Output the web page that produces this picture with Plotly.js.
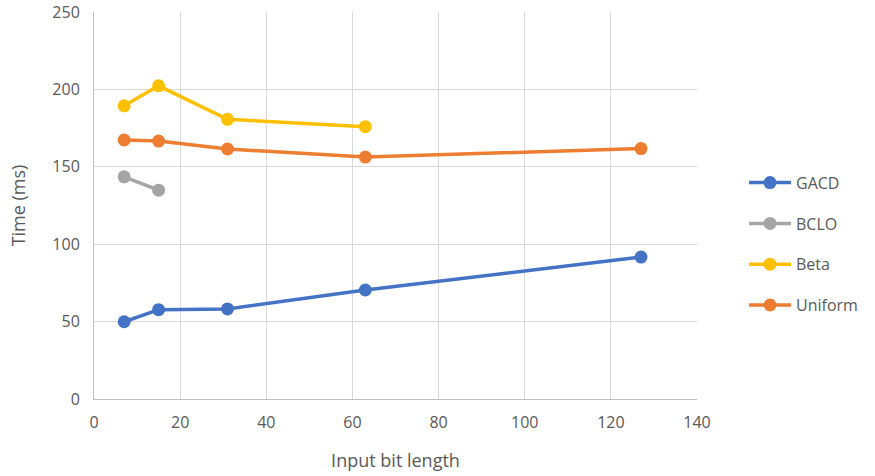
<!DOCTYPE html>
<html>
<head>
<meta charset="utf-8">
<script src="https://cdn.plot.ly/plotly-3.0.1.min.js"></script>
<style>html,body{margin:0;padding:0;background:#fff;}#chart{width:875px;height:476px;}</style>
</head>
<body>
<div id="chart"></div>
<script>
const seriesNames = ["GACD", "BCLO", "Beta", "Uniform"];
const colors = ["#4472C4", "#A5A5A5", "#FFC000", "#ED7D31"];
const gacdX = [7, 15, 31, 63, 127];
const gacdY = [49.9, 57.7, 58.2, 70.4, 91.7];
const bcloX = [7, 15];
const bcloY = [143.5, 134.9];
const betaX = [7, 15, 31, 63];
const betaY = [189.4, 202.3, 180.7, 175.9];
const uniformX = [7, 15, 31, 63, 127];
const uniformY = [167.3, 166.6, 161.5, 156.3, 161.8];
const xTicks = [0, 20, 40, 60, 80, 100, 120, 140];
const yTicks = [0, 50, 100, 150, 200, 250];

const xs = [gacdX, bcloX, betaX, uniformX];
const ys = [gacdY, bcloY, betaY, uniformY];
const font = "Open Sans, Liberation Sans, sans-serif";

const traces = seriesNames.map((n, i) => ({
  type: "scatter", mode: "lines+markers", name: n,
  x: xs[i], y: ys[i], legendgroup: n,
  line: {color: colors[i], width: 3.5},
  marker: {color: colors[i], size: 13}
}));

const layout = {
  width: 875, height: 476,
  margin: {l: 94, r: 178, t: 12, b: 77},
  paper_bgcolor: "#fff", plot_bgcolor: "#fff",
  font: {family: font, color: "#595959", size: 16},
  showlegend: true,
  legend: {x: 1.078, xanchor: "left", y: 0.4, yanchor: "middle",
    font: {size: 16, color: "#595959"}, tracegroupgap: 17, itemwidth: 42},
  xaxis: {range: [0, 140], tickvals: xTicks, ticktext: xTicks.map(String),
    showgrid: true, gridcolor: "#d9d9d9", gridwidth: 1,
    zeroline: false, showline: true, linecolor: "#bfbfbf", linewidth: 1,
    ticks: "", ticklabelstandoff: 9,
    title: {text: "Input bit length", font: {size: 18, color: "#595959"}, standoff: 22}},
  yaxis: {range: [0, 250], tickvals: yTicks, ticktext: yTicks.map(String),
    showgrid: true, gridcolor: "#d9d9d9", gridwidth: 1,
    zeroline: false, showline: true, linecolor: "#bfbfbf", linewidth: 1,
    ticks: "", ticklabelstandoff: 10,
    title: {text: "Time (ms)", font: {size: 18, color: "#595959"}, standoff: 22}}
};

Plotly.newPlot("chart", traces, layout, {displayModeBar: false, staticPlot: true});
</script>
</body>
</html>
